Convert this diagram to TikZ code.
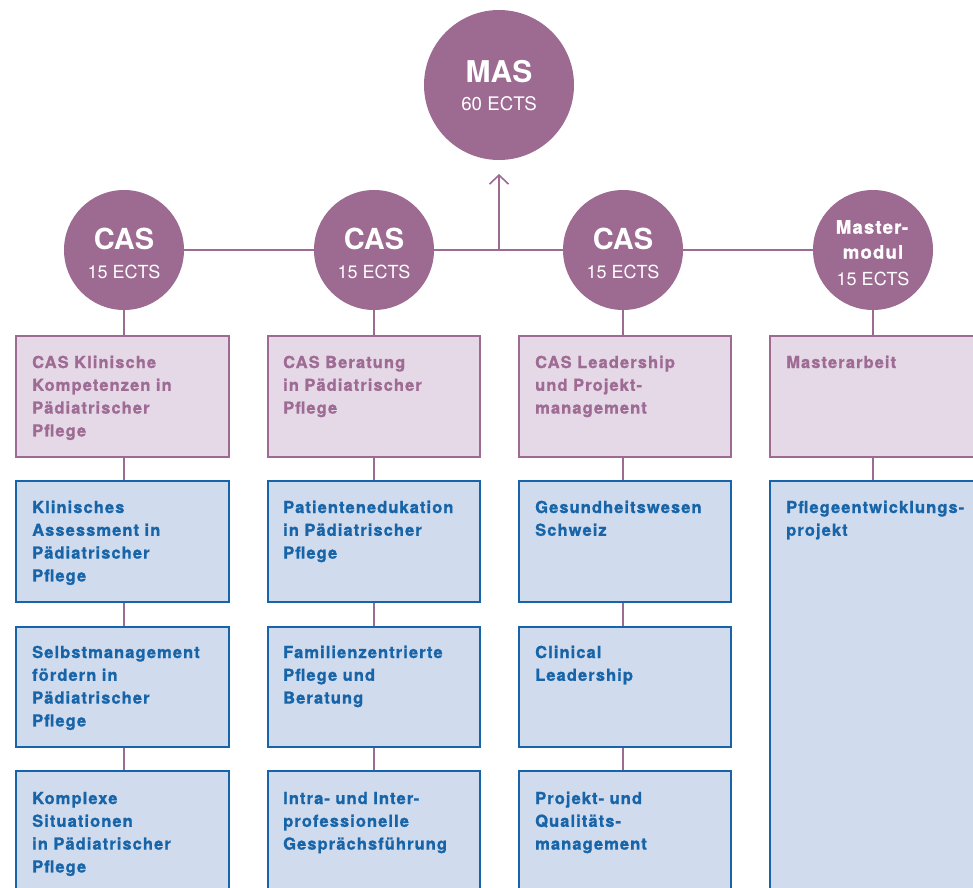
\documentclass[tikz,border=0pt]{standalone}
\usepackage{fontspec}
\setmainfont{TeX Gyre Heros}
\newfontfamily\boxfont{TeX Gyre Heros}[LetterSpace=6.5, BoldFeatures={FakeBold=1.2}]
\usetikzlibrary{arrows.meta}
\definecolor{mauve}{HTML}{9D6A92}
\definecolor{lilac}{HTML}{E6D9E7}
\definecolor{navy}{HTML}{1765A8}
\definecolor{paleblue}{HTML}{D0DBEE}
\definecolor{mauvetext}{HTML}{9E6B94}
\tikzset{
  bubble/.style={circle, fill=mauve, draw=none, text=white, align=center, inner sep=0pt},
  bubtext/.style={text=white, inner sep=0pt},
  casbox/.style={rectangle, anchor=north west, fill=lilac, draw=mauve, line width=1.6pt, inner sep=0pt},
  modbox/.style={rectangle, anchor=north west, fill=paleblue, draw=navy, line width=2.2pt, inner sep=0pt},
  castext/.style={anchor=base west, inner sep=0pt, text width=205pt, align=left, text=mauvetext,
    font=\boxfont\bfseries\fontsize{16.5}{22.8}\selectfont},
  modtext/.style={anchor=base west, inner sep=0pt, text width=205pt, align=left, text=navy,
    font=\boxfont\bfseries\fontsize{16.5}{22.8}\selectfont},
  link/.style={draw=mauve, line width=2pt},
}
\begin{document}
\begin{tikzpicture}[x=1pt,y=-1pt]
\useasboundingbox (0,0) rectangle (973,887);
\clip (0,0) rectangle (973,887);
% circles
\node[bubble, minimum size=150pt] (mas) at (499,85) {};
\node[bubtext, font=\bfseries\fontsize{30}{32}\selectfont] (mast) at (499,72) {MAS};
\node[bubtext, font=\fontsize{18.7}{20}\selectfont] (masects) at (499,104) {60 ECTS};

\node[bubble, minimum size=120pt] (c1) at (124,250) {};
\node[bubble, minimum size=120pt] (c2) at (374,250) {};
\node[bubble, minimum size=120pt] (c3) at (623,250) {};
\node[bubble, minimum size=120pt] (c4) at (873,250) {};
\foreach \n/\x in {1/124,2/374,3/623}{
  \node[bubtext, font=\bfseries\fontsize{29}{30}\selectfont] (c\n t) at (\x,239) {CAS};
  \node[bubtext, font=\fontsize{18}{20}\selectfont] (c\n e) at (\x,272) {15 ECTS};
}
\node[bubtext, font=\boxfont\bfseries\fontsize{18.5}{20}\selectfont] (c4a) at (872,227) {Master-};
\node[bubtext, font=\boxfont\bfseries\fontsize{18.5}{20}\selectfont] (c4b) at (873,252) {modul};
\node[bubtext, font=\fontsize{18}{20}\selectfont] (c4e) at (873,279) {15 ECTS};

% horizontal line and arrow
\coordinate (junction) at (499,250);
\coordinate (tip) at (499,174);
\draw[link] (c1.east) -- (c2.west);
\draw[link] (c2.east) -- (c3.west);
\draw[link] (c3.east) -- (c4.west);
\draw[link, line width=1.6pt, -{Straight Barb[length=9pt,width=19pt,line width=1.6pt]}] (junction) -- (tip);

% CAS boxes
\node[casbox, minimum width=213pt, minimum height=121pt] (p1) at (15,335) {};
\node[casbox, minimum width=212pt, minimum height=121pt] (p2) at (267,335) {};
\node[casbox, minimum width=212pt, minimum height=121pt] (p3) at (518,335) {};
\node[casbox, minimum width=230pt, minimum height=121pt] (p4) at (769,335) {};
\node[castext] (p1t) at (32,368) {CAS Klinische\\Kompetenzen in\\Pädiatrischer\\Pflege};
\node[castext] (p2t) at (283,368) {CAS Beratung\\in Pädiatrischer\\Pflege};
\node[castext] (p3t) at (535,368) {CAS Leadership\\und Projekt-\\management};
\node[castext] (p4t) at (786,368) {Masterarbeit};

% module boxes row 1
\node[modbox, minimum width=213pt, minimum height=121pt] (a1) at (15,480) {};
\node[modbox, minimum width=212pt, minimum height=121pt] (a2) at (267,480) {};
\node[modbox, minimum width=212pt, minimum height=121pt] (a3) at (518,480) {};
\node[modbox, minimum width=230pt, minimum height=430pt] (a4) at (769,480) {};
% row 2
\node[modbox, minimum width=213pt, minimum height=120pt] (b1) at (15,626) {};
\node[modbox, minimum width=212pt, minimum height=120pt] (b2) at (267,626) {};
\node[modbox, minimum width=212pt, minimum height=120pt] (b3) at (518,626) {};
% row 3
\node[modbox, minimum width=213pt, minimum height=140pt] (d1) at (15,770) {};
\node[modbox, minimum width=212pt, minimum height=140pt] (d2) at (267,770) {};
\node[modbox, minimum width=212pt, minimum height=140pt] (d3) at (518,770) {};

\node[modtext] (a1t) at (32,513) {Klinisches\\Assessment in\\Pädiatrischer\\Pflege};
\node[modtext] (a2t) at (283,513) {Patientenedukation\\in Pädiatrischer\\Pflege};
\node[modtext] (a3t) at (535,513) {Gesundheitswesen\\Schweiz};
\node[modtext] (a4t) at (786,513) {Pflegeentwicklungs-\\projekt};
\node[modtext] (b1t) at (32,658) {Selbstmanagement\\fördern in\\Pädiatrischer\\Pflege};
\node[modtext] (b2t) at (283,658) {Familienzentrierte\\Pflege und\\Beratung};
\node[modtext] (b3t) at (535,658) {Clinical\\Leadership};
\node[modtext] (d1t) at (32,804) {Komplexe\\Situationen\\in Pädiatrischer\\Pflege};
\node[modtext] (d2t) at (283,804) {Intra- und Inter-\\professionelle\\Gesprächsführung};
\node[modtext] (d3t) at (535,804) {Projekt- und\\Qualitäts-\\management};

% vertical connectors
\foreach \n in {1,2,3}{
  \draw[link] (c\n.south) -- (c\n |- p\n.north);
  \draw[link] (c\n |- p\n.south) -- (c\n |- a\n.north);
  \draw[link] (c\n |- a\n.south) -- (c\n |- b\n.north);
  \draw[link] (c\n |- b\n.south) -- (c\n |- d\n.north);
}
\draw[link] (c4.south) -- (c4 |- p4.north);
\draw[link] (c4 |- p4.south) -- (c4 |- a4.north);
\end{tikzpicture}
\end{document}
